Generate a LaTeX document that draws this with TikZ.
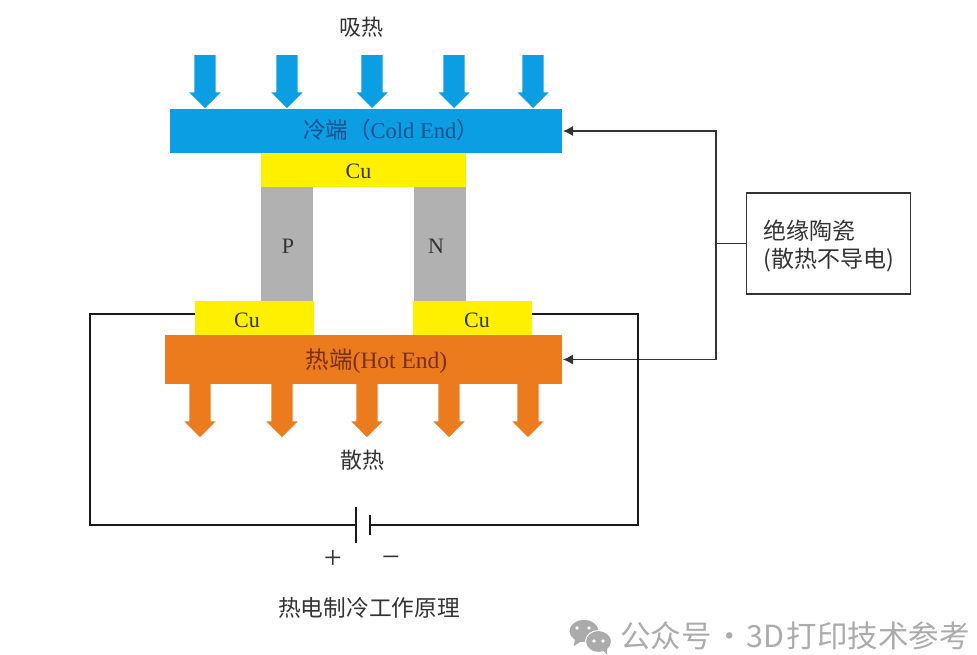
\documentclass[tikz,border=0pt]{standalone}
\usepackage{fontspec}
\setmainfont{Liberation Serif}
\newfontfamily\cjk{Noto Sans CJK SC}
\usepackage{tikz}
\usetikzlibrary{arrows.meta, positioning, shapes.arrows}
\definecolor{coldblue}{HTML}{0B9EE2}
\definecolor{coldtext}{HTML}{14508F}
\definecolor{hotorange}{HTML}{EB7B1D}
\definecolor{hottext}{HTML}{7A2E12}
\definecolor{cuyellow}{HTML}{FFF000}
\definecolor{legray}{HTML}{B1B1B1}
\definecolor{inktext}{HTML}{333333}
\definecolor{wmgray}{HTML}{ABABAB}

\begin{document}
\begin{tikzpicture}[
    x=1pt, y=-1pt,
    part/.style={inner sep=0pt, outer sep=0pt, font=\fontsize{22}{22}\selectfont, text=inktext},
    bar/.style={part, minimum height=#1},
    cu/.style={part, fill=cuyellow},
    leg/.style={part, fill=legray, minimum width=52pt, minimum height=114pt},
    flow/.style={single arrow, fill=#1, inner sep=0pt, outer sep=0pt, rotate=-90, anchor=tip,
        text height=21pt, text depth=0pt, text width=0pt,
        minimum height=53pt, single arrow head extend=5pt},
    txt/.style={inner sep=0pt, font=\cjk\fontsize{22}{22}\selectfont, text=inktext},
    wire/.style={line width=2.4pt, black!90},
    thin/.style={line width=1.1pt, black!80},
    plate/.style={fill=black!90, inner sep=0pt, outer sep=0pt, minimum width=2.6pt}
]
    \useasboundingbox (0,0) rectangle (977,654);

    % Hot and cold plates with the couple between them
    \node[bar=44pt, fill=coldblue, minimum width=392pt,
        label={[part, font=\fontsize{22.5}{22.5}\selectfont, text=coldtext, xshift=25pt, yshift=1pt]center:{\cjk 冷端（}Cold End{\cjk ）}}] (cold) at (366,131) {};
    \node[cu, minimum width=205pt, minimum height=34pt, below=0pt of cold.south west, anchor=north west, xshift=91pt,
        label={[part, xshift=-5pt, yshift=-1pt]center:Cu}] (cutop) {};
    \node[leg, below=0pt of cutop.south west, anchor=north west,
        label={[part, xshift=1pt, yshift=-2pt]center:P}] (pleg) {};
    \node[leg, below=0pt of cutop.south east, anchor=north east,
        label={[part, xshift=-4pt, yshift=-2pt]center:N}] (nleg) {};
    \node[bar=49pt, fill=hotorange, minimum width=397pt,
        label={[part, font=\fontsize{23.5}{23.5}\selectfont, text=hottext, xshift=13pt, yshift=-2pt]center:{\cjk 热端}(Hot End)}] (hot) at (363.5,359.5) {};
    \node[cu, minimum width=119pt, minimum height=34pt, above=0pt of hot.north west, anchor=south west, xshift=30pt,
        label={[part, xshift=-7.5pt, yshift=-2pt]center:Cu}] (culeft) {};
    \node[cu, minimum width=119pt, minimum height=34pt, above=0pt of hot.north west, anchor=south west, xshift=248pt,
        label={[part, xshift=4.5pt, yshift=-2pt]center:Cu}] (curight) {};

    % Heat flow arrows
    \foreach \ax/\an in {205/a,287/b,372/c,454/d,533/e}
        \node[flow=coldblue] (in\an) at (\ax,108) {};
    \foreach \ax/\an in {200/a,282/b,367/c,449/d,528/e}
        \node[flow=hotorange] (out\an) at (\ax,437) {};

    % Labels
    \node[txt] (absorb) at (361,27) {吸热};
    \node[txt] (release) at (362,460) {散热};
    \node[txt, font=\fontsize{32}{32}\selectfont] (plus) at (333,559) {+};
    \node[txt, font=\fontsize{32}{32}\selectfont] (minus) at (391,562) {−};
    \node[txt, font=\cjk\fontsize{22.7}{22.7}\selectfont] (title) at (369,608) {热电制冷工作原理};

    % Ceramic note box
    \node[thin, draw, minimum width=164pt, minimum height=101pt, align=left, inner sep=0pt,
        font=\cjk\fontsize{23}{28}\selectfont, text=inktext] (ceramic) at (828.7,243.5)
        {\rule{0pt}{24pt}绝缘陶瓷\\(散热不导电)};
    \coordinate (branch) at (716,243.5);
    \draw[thin] (ceramic.west) -- (branch);
    \draw[thin, -{Latex[length=10pt,width=10pt]}, shorten >=1pt] (branch) |- (cold.east);
    \draw[thin, -{Latex[length=10pt,width=10pt]}, shorten >=1pt] (branch) |- (hot.east);

    % Battery circuit
    \node[plate, minimum height=36pt] (pos) at (356,525) {};
    \node[plate, minimum height=20pt] (neg) at (370,525) {};
    \draw[wire] ([yshift=4pt]culeft.west) -| (90,525) -- (pos.west);
    \draw[wire] ([yshift=4pt]curight.east) -| (638,525) -- (neg.east);

    % Watermark
    \fill[wmgray] (584,631) ellipse (14.5pt and 11pt);
    \fill[wmgray] (575,638) -- (574,646) -- (583,640) -- cycle;
    \fill[wmgray, draw=white, line width=1pt] (598.5,641.5) ellipse (13pt and 11pt);
    \fill[wmgray] (603,650) -- (607,655) -- (607,648) -- cycle;
    \foreach \ex/\ey in {577/628,589/628,594/641,603/641}
        \fill[white] (\ex,\ey) circle (1.8pt);
    \node[txt, font=\cjk\fontsize{30.5}{30.5}\selectfont, text=wmgray, anchor=west] (mark) at (620,636) {公众号\hspace{-4pt} · \hspace{-5pt}3D\hspace{2pt}打印技术参考};
\end{tikzpicture}
\end{document}
